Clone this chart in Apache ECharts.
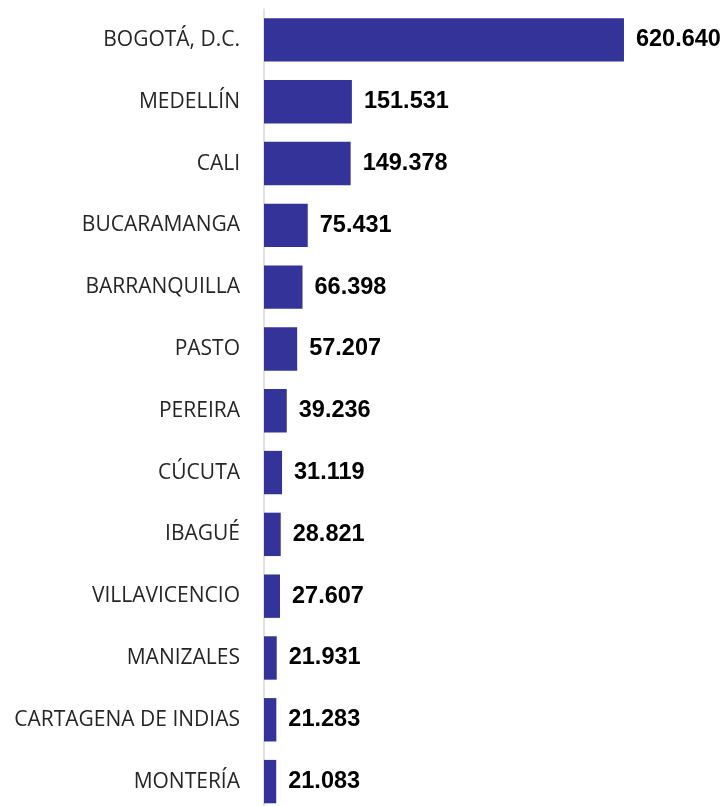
<!DOCTYPE html>
<html><head><meta charset="utf-8">
<script src="https://cdn.jsdelivr.net/npm/echarts@6/dist/echarts.min.js"></script>
<style>html,body{margin:0;padding:0;background:#fff;overflow:hidden}#c{width:725px;height:830px}</style>
</head><body><div id="c"></div>
<script>
const categories = ["BOGOTÁ, D.C.","MEDELLÍN","CALI","BUCARAMANGA","BARRANQUILLA","PASTO","PEREIRA","CÚCUTA","IBAGUÉ","VILLAVICENCIO","MANIZALES","CARTAGENA DE INDIAS","MONTERÍA"];
const values = [620640,151531,149378,75431,66398,57207,39236,31119,28821,27607,21931,21283,21083];
const fmt = v => String(v).replace(/\B(?=(\d{3})+(?!\d))/g, ".");
const chart = echarts.init(document.getElementById('c'), null, {renderer:'canvas'});
chart.setOption({
  animation:false,
  grid:{left:264, top:9, width:406, height:803.5, containLabel:false},
  xAxis:{type:'value', min:0, max:700000, show:false},
  yAxis:{type:'category', data:categories, inverse:true,
    axisLine:{show:true, lineStyle:{color:'#d9d9d9', width:1.5}},
    axisTick:{show:false},
    axisLabel:{margin:24, fontFamily:'Open Sans', fontSize:21, color:'#262626'}},
  series:[{type:'bar', data:values, barCategoryGap:'29.8%',
    itemStyle:{color:'#333399'},
    label:{show:true, position:'right', distance:12, formatter:p=>fmt(p.value),
      fontFamily:'Liberation Sans, Arial', fontWeight:'bold', fontSize:23.5, color:'#000'}}]
});
</script></body></html>
